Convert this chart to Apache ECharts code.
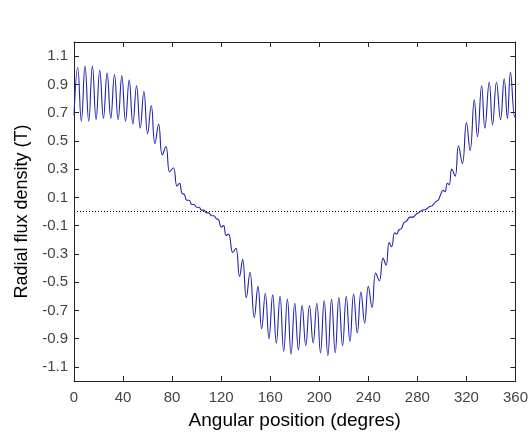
<!DOCTYPE html>
<html><head><meta charset="utf-8">
<script src="https://cdn.jsdelivr.net/npm/echarts@6/dist/echarts.min.js"></script>
<style>html,body{margin:0;padding:0;background:#fff}#c{width:531px;height:435px}</style>
</head><body><div id="c"></div>
<script>
// Angular position (degrees) and radial flux density (T)
const angles = [
  0, 3, 6, 9, 12, 15, 18, 21, 24, 27, 30, 33, 36, 39, 42, 45, 48, 51, 54, 57,
  60, 63, 66, 69, 72, 75, 78, 81, 84, 86, 88, 90, 92, 94, 96, 98, 100, 102, 104, 106,
  108, 110, 112, 114, 116, 118, 120, 122, 124, 126, 129.5, 132, 135, 137.5, 140.5, 143.5, 147, 150, 153, 156,
  159, 162, 165, 168, 171, 174, 177, 180, 183, 186, 189, 192, 195, 198, 201, 204, 207, 210, 213, 216,
  219, 222, 225, 228, 231, 234, 237, 240, 243, 246, 249, 252, 254.5, 257, 259, 261.5, 263, 265, 267, 269,
  271, 274, 276, 279, 281, 284, 287, 290, 292, 295, 297, 299, 301, 302.5, 304.5, 306, 308, 310.8, 313.5, 316.7,
  320, 323, 326.4, 329, 332.4, 335, 338.6, 341.3, 344.5, 347.8, 350.8, 353.4, 355.9, 359.4, 360
];
const flux = [
  0.68, 1.02, 0.64, 1.03, 0.64, 1.03, 0.65, 1.00, 0.66, 0.98, 0.66, 0.97, 0.65, 0.96, 0.64, 0.93, 0.62, 0.89, 0.59, 0.85,
  0.55, 0.75, 0.48, 0.62, 0.40, 0.46, 0.28, 0.31, 0.18, 0.20, 0.13, 0.12, 0.08, 0.08, 0.05, 0.05, 0.03, 0.03, 0.01, 0.01,
  -0.01, -0.01, -0.03, -0.03, -0.05, -0.06, -0.11, -0.10, -0.17, -0.16, -0.29, -0.26, -0.46, -0.34, -0.61, -0.43, -0.75, -0.53, -0.83, -0.58,
  -0.90, -0.59, -0.93, -0.60, -0.99, -0.62, -1.01, -0.65, -0.98, -0.665, -0.95, -0.665, -0.93, -0.65, -1.00, -0.63, -1.02, -0.62, -1.00, -0.61,
  -0.95, -0.60, -0.92, -0.585, -0.86, -0.57, -0.79, -0.53, -0.68, -0.435, -0.49, -0.33, -0.38, -0.22, -0.25, -0.15, -0.16, -0.13, -0.12, -0.08,
  -0.07, -0.04, -0.04, -0.02, -0.01, 0.01, 0.015, 0.035, 0.04, 0.07, 0.08, 0.12, 0.15, 0.14, 0.20, 0.19, 0.30, 0.25, 0.465, 0.34,
  0.63, 0.43, 0.79, 0.53, 0.89, 0.59, 0.915, 0.615, 0.915, 0.65, 0.94, 0.66, 0.985, 0.67, 0.68
];
const xTicks = [0, 40, 80, 120, 160, 200, 240, 280, 320, 360];
const yTicks = [-1.1, -0.9, -0.7, -0.5, -0.3, -0.1, 0.1, 0.3, 0.5, 0.7, 0.9, 1.1];
const xTitle = 'Angular position (degres)';
const yTitle = 'Radial flux density (T)';

const font = 'Arial, "Liberation Sans", Helvetica, sans-serif';
const axisLine = { show: true, onZero: false, lineStyle: { color: '#222', width: 1 } };
const tick = { show: true, inside: true, length: 5, lineStyle: { color: '#222', width: 1 } };

const chart = echarts.init(document.getElementById('c'), null, { renderer: 'canvas' });
chart.setOption({
  backgroundColor: '#fff',
  animation: false,
  grid: { left: 74, right: 14, top: 42, bottom: 46, containLabel: false },
  xAxis: [
    {
      type: 'value', min: 0, max: 360, interval: 40, position: 'bottom',
      axisLine: axisLine, axisTick: tick, splitLine: { show: false },
      axisLabel: { show: true, color: '#444', fontFamily: font, fontSize: 15, margin: 9 },
      name: xTitle, nameLocation: 'middle', nameGap: 30,
      nameTextStyle: { color: '#000', fontFamily: font, fontSize: 19 }
    },
    {
      type: 'value', min: 0, max: 360, interval: 40, position: 'top',
      axisLine: axisLine, axisTick: tick, splitLine: { show: false },
      axisLabel: { show: false }
    }
  ],
  yAxis: [
    {
      type: 'value', min: -1.2, max: 1.2, position: 'left',
      axisLine: axisLine,
      axisTick: Object.assign({}, tick, { customValues: yTicks }),
      splitLine: { show: false },
      axisLabel: { show: true, customValues: yTicks, color: '#444', fontFamily: font, fontSize: 15, margin: 6,
        formatter: v => v.toFixed(1) },
      name: yTitle, nameLocation: 'middle', nameGap: 39, nameRotate: 90,
      nameTextStyle: { color: '#000', fontFamily: font, fontSize: 18 }
    },
    {
      type: 'value', min: -1.2, max: 1.2, position: 'right',
      axisLine: axisLine,
      axisTick: Object.assign({}, tick, { customValues: yTicks }),
      splitLine: { show: false },
      axisLabel: { show: false }
    }
  ],
  series: [
    {
      type: 'line', xAxisIndex: 0, yAxisIndex: 0,
      data: angles.map((a, i) => [a, flux[i]]),
      showSymbol: false, smooth: 0.45,
      lineStyle: { color: '#2222aa', width: 1.1 },
      markLine: {
        silent: true, symbol: ['none', 'none'], label: { show: false },
        lineStyle: { type: [1, 2], color: '#000', width: 1 },
        data: [{ yAxis: 0 }]
      }
    }
  ]
});
</script>
</body></html>
